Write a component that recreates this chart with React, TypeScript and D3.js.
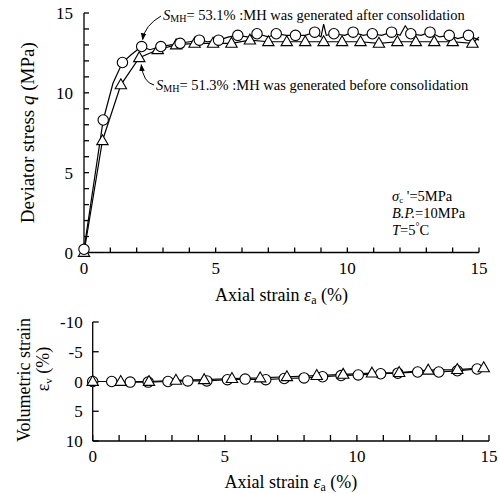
import React from "react";
import * as d3 from "d3";

// ---- Data ----
// Deviator stress: S_MH = 53.1% (MH generated after consolidation) — circles
const afterX = [0, 0.73, 1.46, 2.19, 2.92, 3.65, 4.38, 5.11, 5.84, 6.57, 7.3, 8.03, 8.76, 9.49, 10.22, 10.95, 11.68, 12.41, 13.14, 13.87, 14.6];
const afterQ = [0.2, 8.3, 11.9, 12.9, 12.9, 13.1, 13.3, 13.3, 13.6, 13.7, 13.7, 13.6, 13.8, 13.7, 13.8, 13.7, 13.8, 13.7, 13.8, 13.6, 13.6];
// raw-curve points (with spikes) of the circle curve
const afterLineX = [0, 0.73, 1.1, 1.46, 1.8, 2.19, 2.5, 2.92, 3.3, 3.65, 4.0, 4.38, 4.7, 5.11, 5.5, 5.84, 6.2, 6.57, 7.0, 7.3, 7.7, 8.03, 8.4, 8.76, 9.0, 9.1, 9.2, 9.49, 9.9, 10.22, 10.6, 10.95, 11.3, 11.68, 12.0, 12.2, 12.41, 12.8, 13.14, 13.5, 13.87, 14.2, 14.6, 15.0];
const afterLineQ = [0.2, 8.3, 10.6, 11.9, 12.4, 12.9, 12.7, 12.9, 13.0, 13.1, 13.2, 13.3, 13.2, 13.3, 13.5, 13.6, 13.5, 13.7, 13.5, 13.7, 13.6, 13.6, 13.6, 13.8, 13.5, 14.3, 13.6, 13.7, 13.6, 13.8, 13.6, 13.7, 13.6, 13.8, 13.6, 14.2, 13.7, 13.6, 13.8, 13.5, 13.6, 13.4, 13.6, 13.3];

// S_MH = 51.3% (MH generated before consolidation) — triangles
const beforeX = [0, 0.7, 1.4, 2.1, 2.8, 3.5, 4.2, 4.9, 5.6, 6.3, 7.0, 7.7, 8.4, 9.1, 9.8, 10.5, 11.2, 11.9, 12.6, 13.3, 14.0, 14.75];
const beforeQ = [0, 7.0, 10.5, 12.2, 12.7, 13.0, 13.1, 13.1, 13.1, 13.3, 13.2, 13.2, 13.2, 13.2, 13.2, 13.2, 13.1, 13.2, 13.2, 13.2, 13.2, 13.1];

// Volumetric strain
const volCircX = [0, 0.72, 1.42, 2.1, 2.85, 3.6, 4.32, 5.1, 5.77, 6.55, 7.25, 8.0, 8.7, 9.4, 10.05, 10.9, 11.55, 12.3, 13.1, 13.8, 14.55];
const volCircE = [0, 0, 0.1, 0.1, 0, -0.1, -0.1, -0.3, -0.4, -0.3, -0.5, -0.6, -0.8, -1.0, -1.1, -1.3, -1.4, -1.6, -1.6, -1.8, -2.1];
const volTriX = [0, 1.06, 2.13, 3.15, 4.22, 5.27, 6.34, 7.35, 8.48, 9.48, 10.57, 11.6, 12.7, 13.8, 14.8];
const volTriE = [0, 0, 0, -0.2, -0.3, -0.5, -0.6, -0.8, -1.0, -1.2, -1.4, -1.5, -1.9, -2.0, -2.3];

const xTicks = [0, 5, 10, 15];
const qTicks = [0, 5, 10, 15];
const evTicks = [-10, -5, 0, 5, 10];

const FONT = "Liberation Serif, DejaVu Serif, serif";

const tri = (cx: number, cy: number, s = 6) =>
  `M${cx},${cy - s}L${cx + s * 0.95},${cy + s * 0.65}L${cx - s * 0.95},${cy + s * 0.65}Z`;

export default function App() {
  const x1 = d3.scaleLinear().domain([0, 15]).range([84, 479]);
  const y1 = d3.scaleLinear().domain([0, 15]).range([252.5, 13]);
  const x2 = d3.scaleLinear().domain([0, 15]).range([92.7, 489]);
  const y2 = d3.scaleLinear().domain([-10, 10]).range([322, 441]);

  const line1 = d3.line<[number, number]>().x((d) => x1(d[0])).y((d) => y1(d[1]));
  const line2 = d3.line<[number, number]>().x((d) => x2(d[0])).y((d) => y2(d[1]));

  const afterLine = afterLineX.map((v, i) => [v, afterLineQ[i]] as [number, number]);
  const beforeLine = beforeX.map((v, i) => [v, beforeQ[i]] as [number, number]).concat([[15, 13.5]]);
  const volLine = volTriX.map((v, i) => [v, volTriE[i]] as [number, number]);
  const volLineC = volCircX.map((v, i) => [v, volCircE[i]] as [number, number]);

  const minor1 = d3.range(0, 16, 1);
  const tickLen = 5;

  const a1x = x1(afterX[3]) + 1, a1y = y1(afterQ[3]) - 7;
  const a2x = x1(beforeX[3]) + 2, a2y = y1(beforeQ[3]) + 7;

  return (
    <svg width={500} height={494} style={{ position: "absolute", left: 0, top: 0, background: "#fff", fontFamily: FONT }}>
      <defs>
        <marker id="ah" viewBox="0 0 10 10" refX="9" refY="5" markerWidth="7" markerHeight="7" orient="auto">
          <path d="M0,1L10,5L0,9Z" fill="#000" />
        </marker>
      </defs>
      <rect width={500} height={494} fill="#fff" />

      {/* ===== TOP PANEL ===== */}
      <g stroke="#000" strokeWidth={1.3} fill="none">
        <line x1={x1(0)} y1={y1(15)} x2={x1(0)} y2={y1(0)} />
        <line x1={x1(0)} y1={y1(0)} x2={x1(15)} y2={y1(0)} />
        {minor1.map((t) => (
          <line key={"yt" + t} x1={x1(0)} x2={x1(0) + tickLen} y1={y1(t)} y2={y1(t)} />
        ))}
        {minor1.map((t) => (
          <line key={"xt" + t} x1={x1(t)} x2={x1(t)} y1={y1(0)} y2={y1(0) - tickLen} />
        ))}
      </g>
      <g fontSize={17} fill="#000">
        {qTicks.map((t) => (
          <text key={"yl" + t} x={x1(0) - 11} y={y1(t) + 6} textAnchor="end">{t}</text>
        ))}
        {xTicks.map((t) => (
          <text key={"xl" + t} x={x1(t)} y={y1(0) + 21} textAnchor="middle">{t}</text>
        ))}
      </g>
      <text transform={`translate(34,${(y1(0) + y1(15)) / 2}) rotate(-90)`} textAnchor="middle" fontSize={19}>
        Deviator stress <tspan fontStyle="italic">q</tspan> (MPa)
      </text>
      <text x={(x1(0) + x1(15)) / 2} y={301} textAnchor="middle" fontSize={18}>
        Axial strain <tspan fontStyle="italic">ε</tspan><tspan fontSize={12} dy={3}>a</tspan><tspan dy={-3}> (%)</tspan>
      </text>

      <path d={line1(beforeLine) || ""} fill="none" stroke="#000" strokeWidth={1.2} />
      <path d={line1(afterLine) || ""} fill="none" stroke="#000" strokeWidth={1.2} />
      {beforeX.map((v, i) => (
        <path key={"bt" + i} d={tri(x1(v), y1(beforeQ[i]))} fill="#fff" stroke="#000" strokeWidth={1.1} />
      ))}
      {afterX.map((v, i) => (
        <circle key={"ac" + i} cx={x1(v)} cy={y1(afterQ[i])} r={5.2} fill="#fff" stroke="#000" strokeWidth={1.1} />
      ))}

      {/* annotations */}
      <text x={163} y={20} fontSize={14.5}>
        <tspan fontStyle="italic">S</tspan><tspan fontSize={10} dy={2}>MH</tspan><tspan dy={-2}>= 53.1% :MH was generated after consolidation</tspan>
      </text>
      <path d={`M161,16 Q${a1x + 2},${a1y - 14} ${a1x},${a1y}`} fill="none" stroke="#000" strokeWidth={1} markerEnd="url(#ah)" />
      <text x={156} y={90} fontSize={14.5}>
        <tspan fontStyle="italic">S</tspan><tspan fontSize={10} dy={2}>MH</tspan><tspan dy={-2}>= 51.3% :MH was generated before consolidation</tspan>
      </text>
      <path d={`M154,85 Q${a2x + 2},${a2y + 18} ${a2x},${a2y}`} fill="none" stroke="#000" strokeWidth={1} markerEnd="url(#ah)" />

      <g fontSize={14.5}>
        <text x={392} y={201}>
          <tspan fontStyle="italic">σ</tspan><tspan fontSize={9} dy={2}>c</tspan><tspan dy={-2}> '=5MPa</tspan>
        </text>
        <text x={392} y={218}>
          <tspan fontStyle="italic">B.P.</tspan>=10MPa
        </text>
        <text x={392} y={235}>
          <tspan fontStyle="italic">T</tspan>=5<tspan fontSize={10} dy={-5}>°</tspan><tspan dy={5}>C</tspan>
        </text>
      </g>

      {/* ===== BOTTOM PANEL ===== */}
      <g stroke="#000" strokeWidth={1.3} fill="none">
        <line x1={x2(0)} y1={y2(-10)} x2={x2(0)} y2={y2(10)} />
        <line x1={x2(0)} y1={y2(10)} x2={x2(15)} y2={y2(10)} />
        {evTicks.map((t) => (
          <line key={"ey" + t} x1={x2(0)} x2={x2(0) + tickLen + 1} y1={y2(t)} y2={y2(t)} />
        ))}
        {minor1.map((t) => (
          <line key={"ex" + t} x1={x2(t)} x2={x2(t)} y1={y2(10)} y2={y2(10) - tickLen - 1} />
        ))}
      </g>
      <g fontSize={17} fill="#000">
        {evTicks.map((t) => (
          <text key={"eyl" + t} x={x2(0) - 10} y={y2(t) + 6} textAnchor="end">{t}</text>
        ))}
        {xTicks.map((t) => (
          <text key={"exl" + t} x={x2(t)} y={y2(10) + 21} textAnchor="middle">{t}</text>
        ))}
      </g>
      <text transform={`translate(30,380) rotate(-90)`} textAnchor="middle" fontSize={18}>
        Volumetric strain
      </text>
      <text transform={`translate(49,369) rotate(-90)`} textAnchor="middle" fontSize={18}>
        ε<tspan fontSize={11} dy={3}>v</tspan><tspan dy={-3}> (%)</tspan>
      </text>
      <text x={(x2(0) + x2(15)) / 2} y={488} textAnchor="middle" fontSize={18}>
        Axial strain <tspan fontStyle="italic">ε</tspan><tspan fontSize={12} dy={3}>a</tspan><tspan dy={-3}> (%)</tspan>
      </text>

      <path d={line2(volLineC) || ""} fill="none" stroke="#000" strokeWidth={1.2} />
      <path d={line2(volLine) || ""} fill="none" stroke="#000" strokeWidth={1.2} />
      {volCircX.map((v, i) => (
        <circle key={"vc" + i} cx={x2(v)} cy={y2(volCircE[i])} r={5.2} fill="#fff" stroke="#000" strokeWidth={1.1} />
      ))}
      {volTriX.map((v, i) => (
        <path key={"vt" + i} d={tri(x2(v), y2(volTriE[i]))} fill="#fff" stroke="#000" strokeWidth={1.1} />
      ))}
    </svg>
  );
}
